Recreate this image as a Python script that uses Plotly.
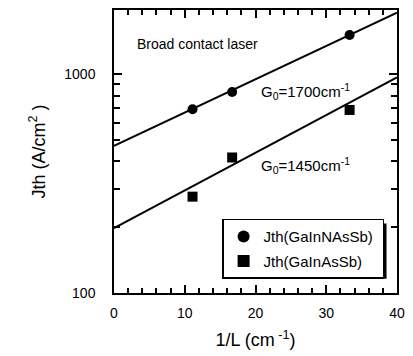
import plotly.graph_objects as go

# Data
inv_L = [11.1, 16.7, 33.3]
jth_gainnassb = [693, 831, 1515]
jth_gainassb = [276, 417, 688]
fit_x = [0, 40]
fit_gainnassb = [471, 1919]
fit_gainassb = [198, 969]

x_major = [0, 10, 20, 30, 40]
x_minor = [2, 4, 6, 8, 12, 14, 16, 18, 22, 24, 26, 28, 32, 34, 36, 38]
y_major = [100, 1000]
y_minor = [200, 300, 400, 500, 600, 700, 800, 900]

FONT = "Liberation Sans, Arial, sans-serif"
NB = "\u00a0"

fig = go.Figure()
fig.add_trace(go.Scatter(x=fit_x, y=fit_gainnassb, mode="lines",
                         line=dict(color="black", width=2), showlegend=False, hoverinfo="skip"))
fig.add_trace(go.Scatter(x=fit_x, y=fit_gainassb, mode="lines",
                         line=dict(color="black", width=2), showlegend=False, hoverinfo="skip"))
fig.add_trace(go.Scatter(x=inv_L, y=jth_gainnassb, mode="markers", name="Jth(GaInNAsSb)" + NB,
                         legendgroup="a",
                         marker=dict(symbol="circle", size=10, color="black")))
fig.add_trace(go.Scatter(x=inv_L, y=jth_gainassb, mode="markers", name="Jth(GaInAsSb)",
                         legendgroup="b",
                         marker=dict(symbol="square", size=10, color="black")))

axis_common = dict(showline=True, linecolor="black", linewidth=1.5, mirror="allticks",
                   ticks="inside", tickcolor="black", showgrid=False, zeroline=False,
                   tickfont=dict(family=FONT, size=14, color="black"))

fig.update_xaxes(range=[0, 40], tickmode="array", tickvals=x_major, ticklen=8, tickwidth=1.5,
                 ticklabelstandoff=6,
                 minor=dict(tickvals=x_minor, ticks="inside", ticklen=5, tickwidth=1.5, tickcolor="black"),
                 title=dict(text="1/L (cm<sup> -1</sup>)", font=dict(family=FONT, size=18, color="black"),
                            standoff=14),
                 **axis_common)
fig.update_yaxes(type="log", range=[2, 3.295], tickmode="array", tickvals=y_major,
                 ticktext=["100", "1000"], ticklen=8, tickwidth=1.5, ticklabelstandoff=14,
                 minor=dict(tickvals=y_minor, ticks="inside", ticklen=6, tickwidth=1.5, tickcolor="black"),
                 title=dict(text="Jth (A/cm<sup>2</sup> )", font=dict(family=FONT, size=18, color="black"),
                            standoff=14),
                 **axis_common)

# legend shadow
fig.add_shape(type="rect", xref="paper", yref="paper", layer="above",
              x0=0.40, x1=0.963, y0=0.050, y1=0.246,
              fillcolor="black", line=dict(width=0))

fig.update_layout(
    width=413, height=356,
    margin=dict(l=114, r=14, t=8, b=63),
    paper_bgcolor="white", plot_bgcolor="white",
    font=dict(family=FONT, size=14, color="black"),
    legend=dict(x=0.382, y=0.262, xanchor="left", yanchor="top",
                bgcolor="white", bordercolor="black", borderwidth=1.5,
                font=dict(family=FONT, size=15, color="black"),
                tracegroupgap=2, itemsizing="constant"),
    annotations=[
        dict(x=2.95, y=3.141, xref="x", yref="y", text="Broad contact laser", showarrow=False,
             xanchor="left", font=dict(family=FONT, size=14, color="black")),
        dict(x=20.5, y=2.923, xref="x", yref="y", text="G<sub>0</sub>=1700cm<sup>-1</sup>", showarrow=False,
             xanchor="left", font=dict(family=FONT, size=15, color="black")),
        dict(x=20.5, y=2.582, xref="x", yref="y", text="G<sub>0</sub>=1450cm<sup>-1</sup>", showarrow=False,
             xanchor="left", font=dict(family=FONT, size=15, color="black")),
    ],
)

fig.write_html("out.html")
